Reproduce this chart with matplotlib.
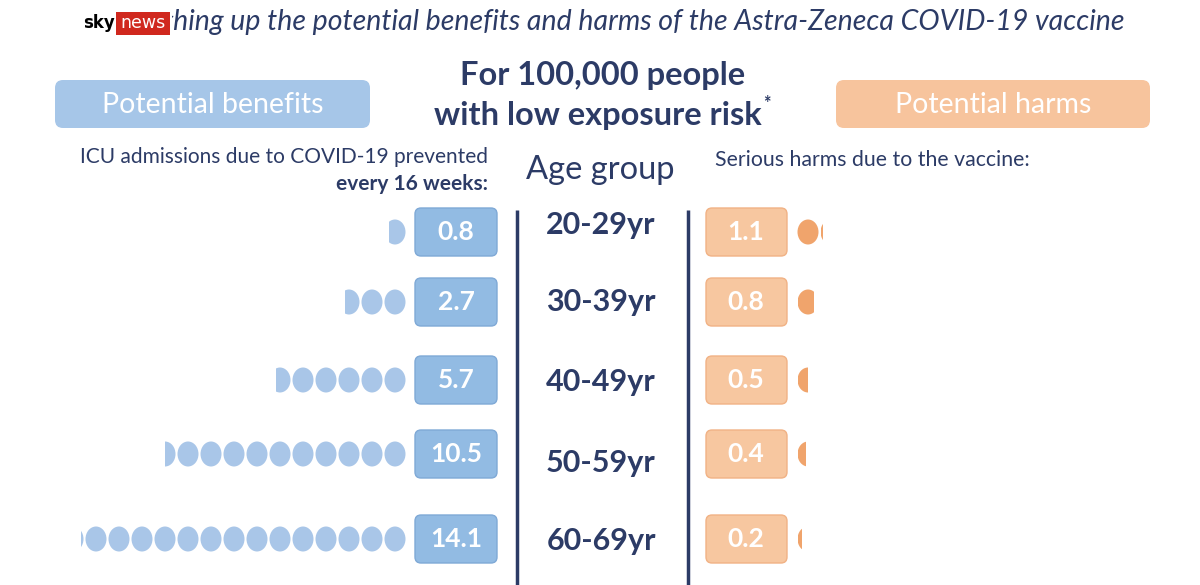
import math
import matplotlib
matplotlib.use("Agg")
import matplotlib.pyplot as plt
from matplotlib.patches import Ellipse, FancyBboxPatch, Rectangle

# ---- data ----
age_groups = ["20-29yr", "30-39yr", "40-49yr", "50-59yr", "60-69yr"]
benefits = [0.8, 2.7, 5.7, 10.5, 14.1]
harms = [1.1, 0.8, 0.5, 0.4, 0.2]
benefit_labels = ["0.8", "2.7", "5.7", "10.5", "14.1"]
harm_labels = ["1.1", "0.8", "0.5", "0.4", "0.2"]

title = "Weighing up the potential benefits and harms of the Astra-Zeneca COVID-19 vaccine"

NAVY = "#2c3b66"
BLUE_DOT = "#a9c6e8"
BLUE_BOX = "#92bbe3"
BLUE_EDGE = "#7fa9d6"
BLUE_HDR = "#a6c6e8"
ORANGE_DOT = "#f0a46c"
ORANGE_BOX = "#f7c7a0"
ORANGE_EDGE = "#f1b285"
ORANGE_HDR = "#f7c49d"

FONT = ["Lato", "DejaVu Sans"]
plt.rcParams["font.family"] = FONT

fig = plt.figure(figsize=(12, 5.85), dpi=100)
ax = fig.add_axes([0, 0, 1, 1])
ax.set_xlim(0, 1200)
ax.set_ylim(585, 0)
ax.axis("off")

# title
ax.text(618, 22, title, ha="center", va="center", fontsize=20.5, style="italic",
        color=NAVY)
# sky news logo
ax.add_patch(Rectangle((80, 9), 92, 28, facecolor="white", edgecolor="none", zorder=5))
ax.text(83, 23, "sky", ha="left", va="center", fontsize=12, fontweight="bold",
        color="black", zorder=6, family=["DejaVu Sans"])
ax.add_patch(Rectangle((116, 12), 54, 23, facecolor="#d0281e", edgecolor="none", zorder=6))
ax.text(143, 23, "news", ha="center", va="center", fontsize=12.5, color="white",
        zorder=7, family=["DejaVu Sans"])

# central heading
ax.text(603, 75, "For 100,000 people", ha="center", va="center", fontsize=23.5,
        fontweight="bold", color=NAVY)
t2 = ax.text(598, 116, "with low exposure risk", ha="center", va="center", fontsize=23.5,
             fontweight="bold", color=NAVY)
fig.canvas.draw()
bb = t2.get_window_extent().transformed(ax.transData.inverted())
ax.text(max(bb.x0, bb.x1) + 1, 104, "*", ha="left", va="center", fontsize=13,
        fontweight="bold", color=NAVY)
ax.text(600, 170, "Age group", ha="center", va="center", fontsize=23.5, color=NAVY)

# header boxes
for (x0, x1, fc, txt) in [(55, 370, BLUE_HDR, "Potential benefits"),
                          (836, 1150, ORANGE_HDR, "Potential harms")]:
    ax.add_patch(FancyBboxPatch((x0 + 6, 86), x1 - x0 - 12, 36,
                                boxstyle="round,pad=6,rounding_size=8",
                                facecolor=fc, edgecolor="none"))
    ax.text((x0 + x1) / 2, 105, txt, ha="center", va="center", fontsize=20.5,
            color="white")

# sub headers
ax.text(488, 157, "ICU admissions due to COVID-19 prevented", ha="right",
        va="center", fontsize=15, color=NAVY)
ax.text(488, 184, "every 16 weeks:", ha="right", va="center", fontsize=15,
        fontweight="bold", color=NAVY)
ax.text(715, 160, "Serious harms due to the vaccine:", ha="left", va="center",
        fontsize=15.3, color=NAVY)

# vertical dividers
ax.plot([517, 517], [210, 585], color=NAVY, lw=2.5, solid_capstyle="butt")
ax.plot([688, 688], [210, 585], color=NAVY, lw=2.5, solid_capstyle="butt")

row_y = [232, 302, 380, 454, 539]
label_y = [225, 302, 382, 463, 541]
DW, DH, STEP = 21, 25, 23.0


def draw_dots(value, cy, x_first, direction, color):
    n_full = int(math.floor(value + 1e-9))
    frac = value - n_full
    for i in range(n_full):
        cx = x_first + direction * i * STEP
        ax.add_patch(Ellipse((cx, cy), DW, DH, facecolor=color, edgecolor="none"))
    if frac > 1e-6:
        cx = x_first + direction * n_full * STEP
        e = Ellipse((cx, cy), DW, DH, facecolor=color, edgecolor="none")
        ax.add_patch(e)
        if direction < 0:  # show the right part
            clip = Rectangle((cx + DW / 2 - frac * DW, cy - DH), frac * DW, 2 * DH,
                             transform=ax.transData)
        else:  # show the left part
            clip = Rectangle((cx - DW / 2, cy - DH), frac * DW, 2 * DH,
                             transform=ax.transData)
        e.set_clip_path(clip)


for i, age in enumerate(age_groups):
    y = row_y[i]
    ax.text(601, label_y[i], age, ha="center", va="center", fontsize=22,
            fontweight="bold", color=NAVY)
    # benefit box
    ax.add_patch(FancyBboxPatch((419, y - 20), 74, 40,
                                boxstyle="round,pad=4,rounding_size=6",
                                facecolor=BLUE_BOX, edgecolor=BLUE_EDGE, lw=1))
    ax.text(456, y, benefit_labels[i], ha="center", va="center", fontsize=19,
            fontweight="bold", color="white")
    draw_dots(benefits[i], y, 395, -1, BLUE_DOT)
    # harm box
    ax.add_patch(FancyBboxPatch((710, y - 20), 73, 40,
                                boxstyle="round,pad=4,rounding_size=6",
                                facecolor=ORANGE_BOX, edgecolor=ORANGE_EDGE, lw=1))
    ax.text(746, y, harm_labels[i], ha="center", va="center", fontsize=19,
            fontweight="bold", color="white")
    draw_dots(harms[i], y, 808, 1, ORANGE_DOT)

fig.savefig("out.png", dpi=100, facecolor="white")
